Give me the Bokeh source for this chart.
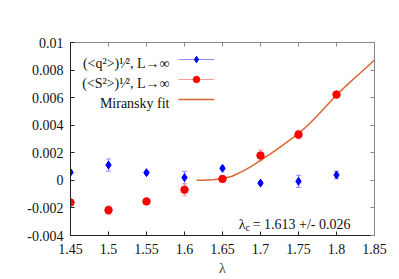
from bokeh.plotting import figure
from bokeh.models import (Range1d, FixedTicker, CustomJSTickFormatter, LinearAxis,
                          Label, Legend, LegendItem, ColumnDataSource)
from bokeh.embed import file_html
from bokeh.resources import INLINE

# ---- data ----
lam = [1.45, 1.50, 1.55, 1.60, 1.65, 1.70, 1.75, 1.80]
q_val = [0.00058, 0.00111, 0.00056, 0.00020, 0.00087, -0.00020, -0.00007, 0.00039]
q_err = [0.00010, 0.00044, 0.00010, 0.00045, 0.00010, 0.00010, 0.00044, 0.00027]
s_val = [-0.00160, -0.00216, -0.00153, -0.00068, 0.00010, 0.00180, 0.00332, 0.00622]
s_err = [0.00010, 0.00030, 0.00010, 0.00044, 0.00010, 0.00040, 0.00030, 0.00010]
fit_x = [1.616, 1.625, 1.6375, 1.65, 1.6625, 1.675, 1.6875, 1.70, 1.7125, 1.725,
         1.7375, 1.75, 1.7625, 1.775, 1.7875, 1.80, 1.8125, 1.825, 1.8375, 1.85]
fit_y = [0.0, 0.00001, 0.00004, 0.00012, 0.00030, 0.00062, 0.00100, 0.00145, 0.00190, 0.00238,
         0.00288, 0.00340, 0.00400, 0.00470, 0.00545, 0.00620, 0.00685, 0.00748, 0.00810, 0.00873]
x_ticks = [1.45, 1.5, 1.55, 1.6, 1.65, 1.7, 1.75, 1.8, 1.85]
y_ticks = [-0.004, -0.002, 0, 0.002, 0.004, 0.006, 0.008, 0.01]

FONT = "Liberation Serif"
BLUE, BLUE_L = "#0000ff", "#8c8cff"
RED, RED_L = "#ff0000", "#ff9a9a"
FIT = "#d9652f"

p = figure(frame_width=304, frame_height=193,
           min_border_left=70, min_border_top=42, min_border_right=25, min_border_bottom=44,
           x_range=Range1d(1.45, 1.85), y_range=Range1d(-0.004, 0.01),
           output_backend="svg", toolbar_location=None)
p.grid.visible = False
p.outline_line_color = None
p.background_fill_color = "white"
p.border_fill_color = "white"

fmt = CustomJSTickFormatter(code="return String(tick);")
blank = CustomJSTickFormatter(code="return '';")
p.xaxis.ticker = FixedTicker(ticks=x_ticks)
p.yaxis.ticker = FixedTicker(ticks=y_ticks)
p.xaxis.formatter = fmt
p.yaxis.formatter = fmt
for ax in (p.xaxis[0], p.yaxis[0]):
    ax.major_tick_in = 4
    ax.major_tick_out = 0
    ax.minor_tick_line_color = None
    ax.axis_line_color = "#222222"
    ax.major_tick_line_color = "#222222"
    ax.major_label_text_font = FONT
    ax.major_label_text_font_size = "14px"
    ax.major_label_text_color = "#111111"
p.xaxis.major_label_standoff = 8
p.yaxis.major_label_standoff = 7
p.xaxis.axis_label = "λ"
p.xaxis.axis_label_text_font = FONT
p.xaxis.axis_label_text_font_style = "normal"
p.xaxis.axis_label_text_font_size = "14px"
p.xaxis.axis_label_standoff = 4

for loc, tk in (("above", x_ticks), ("right", y_ticks)):
    ax = LinearAxis(ticker=FixedTicker(ticks=tk), formatter=blank,
                    major_tick_in=4, major_tick_out=0,
                    minor_tick_line_color=None, axis_line_color="#888888",
                    major_tick_line_color="#888888", major_label_standoff=0)
    p.add_layout(ax, loc)

# ---- error bars ----
def errsrc(x, v, e):
    return ColumnDataSource(dict(x=x, y=v, lo=[a - b for a, b in zip(v, e)],
                                 hi=[a + b for a, b in zip(v, e)]))

qs = errsrc(lam, q_val, q_err)
ss = errsrc(lam, s_val, s_err)

q_bar = p.segment(x0="x", y0="lo", x1="x", y1="hi", source=qs, line_color=BLUE_L, line_width=1.2)
p.scatter(x="x", y="lo", source=qs, marker="dash", size=5, line_color=BLUE_L)
p.scatter(x="x", y="hi", source=qs, marker="dash", size=5, line_color=BLUE_L)
s_bar = p.segment(x0="x", y0="lo", x1="x", y1="hi", source=ss, line_color=RED_L, line_width=1.2)
p.scatter(x="x", y="lo", source=ss, marker="dash", size=5, line_color=RED_L)
p.scatter(x="x", y="hi", source=ss, marker="dash", size=5, line_color=RED_L)

fit_r = p.line(fit_x, fit_y, line_color=FIT, line_width=1.5)

q_pts = p.scatter(x="x", y="y", source=qs, marker="diamond", size=8,
                  fill_color=BLUE, line_color=BLUE)
s_pts = p.scatter(x="x", y="y", source=ss, marker="circle", size=7.5,
                  fill_color=RED, line_color=RED)

# ---- legend samples ----
legend = Legend(items=[LegendItem(label=" ", renderers=[q_bar, q_pts]),
                       LegendItem(label=" ", renderers=[s_bar, s_pts]),
                       LegendItem(label=" ", renderers=[fit_r])],
                location=(108, 128), padding=0, margin=0, spacing=4,
                glyph_width=36, glyph_height=16, label_height=16, label_width=1,
                label_standoff=0, border_line_color=None, background_fill_alpha=0,
                label_text_font_size="12px")
p.add_layout(legend, "center")

# ---- legend texts ----
leg_texts = ["(<q²>)¹⁄², L→∞", "(<S²>)¹⁄², L→∞", "Miransky fit"]
leg_y = [172, 152, 132]
for t, y in zip(leg_texts, leg_y):
    p.add_layout(Label(x=99, y=y, x_units="screen", y_units="screen", text=t,
                       text_align="right", text_baseline="alphabetic",
                       text_font=FONT, text_font_size="14px", text_color="#111111"))

# ---- lambda_c annotation ----
p.add_layout(Label(x=175, y=11, x_units="screen", y_units="screen", text="λ",
                   text_align="right", text_baseline="alphabetic",
                   text_font=FONT, text_font_size="14px", text_color="#111111"))
p.add_layout(Label(x=175, y=8, x_units="screen", y_units="screen", text="c",
                   text_align="left", text_baseline="alphabetic",
                   text_font=FONT, text_font_size="10px", text_color="#111111"))
p.add_layout(Label(x=280, y=11, x_units="screen", y_units="screen",
                   text="= 1.613 +/- 0.026",
                   text_align="right", text_baseline="alphabetic",
                   text_font=FONT, text_font_size="14px", text_color="#111111"))

open("out.html", "w").write(file_html(p, INLINE))
